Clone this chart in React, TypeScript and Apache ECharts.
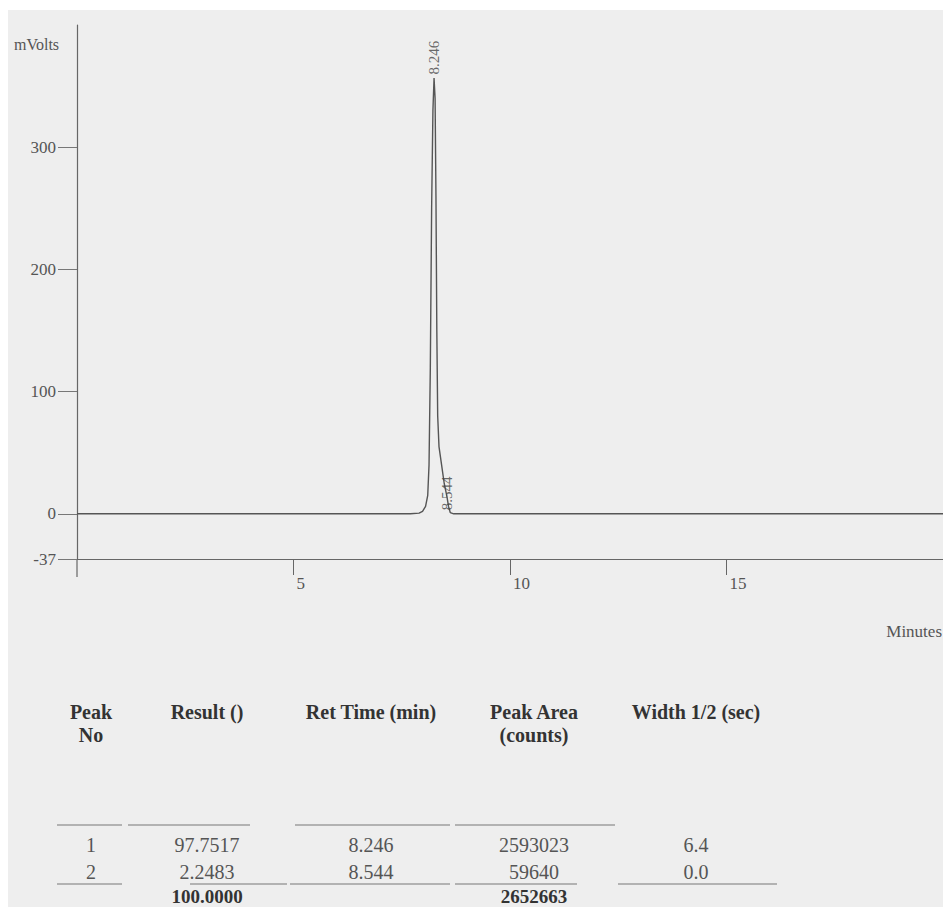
import React, { useEffect, useRef } from "react";
import * as echarts from "echarts";

// ---- data ----
const yTickValues = [-37, 0, 100, 200, 300];
const xTickValues = [5, 10, 15];
const traceTimes = [0, 7.7, 7.9, 7.98, 8.05, 8.1, 8.13, 8.16, 8.19, 8.22, 8.246, 8.27, 8.29, 8.31, 8.33, 8.36, 8.42, 8.48, 8.544, 8.58, 8.62, 8.7, 20];
const traceMv = [0, 0, 0.5, 2, 6, 15, 40, 120, 250, 330, 356.6, 340, 260, 150, 80, 55, 40, 25, 14, 6, 1, 0, 0];
const peakLabelTimes = [8.246, 8.544];
const peakLabelLevels = [356.6, 0];
const peakLabelTexts = ["8.246", "8.544"];

const tableHeaders = [["Peak", "No"], ["Result ()"], ["Ret Time (min)"], ["Peak Area", "(counts)"], ["Width 1/2 (sec)"]];
const peakNos = ["1", "2"];
const results = ["97.7517", "2.2483"];
const retTimes = ["8.246", "8.544"];
const areas = ["2593023", "59640"];
const widths = ["6.4", "0.0"];
const totalResult = "100.0000";
const totalArea = "2652663";

const FONT = "'Liberation Serif', 'Times New Roman', serif";

export default function App() {
  const ref = useRef<HTMLDivElement>(null);
  useEffect(() => {
    if (!ref.current) return;
    const chart = echarts.init(ref.current, null, { renderer: "svg" });

    const colX = [91, 207, 371, 534, 696];
    const headerTextColor = "#333";
    const rowTextColor = "#555";
    const lineColor = "#777";

    const graphics: any[] = [];
    graphics.push({
      type: "text", left: 14, top: 36,
      style: { text: "mVolts", font: `16px ${FONT}`, fill: "#555" },
    });
    graphics.push({
      type: "text", right: 1, top: 623,
      style: { text: "Minutes", font: `17px ${FONT}`, fill: "#555" },
    });
    graphics.push({ type: "line", shape: { x1: 77, y1: 559, x2: 77, y2: 577 }, style: { stroke: "#666", lineWidth: 1.2 } });

    const headerY = [712, 735];
    tableHeaders.forEach((lines, ci) => {
      lines.forEach((t, li) => {
        graphics.push({
          type: "text", x: colX[ci], y: headerY[li],
          style: { text: t, font: `bold 20px ${FONT}`, fill: headerTextColor, textAlign: "center", textVerticalAlign: "middle" },
        });
      });
    });
    const rowY = [845, 872];
    const cols = [peakNos, results, retTimes, areas, widths];
    cols.forEach((col, ci) => {
      col.forEach((t, ri) => {
        graphics.push({
          type: "text", x: colX[ci], y: rowY[ri],
          style: { text: t, font: `20px ${FONT}`, fill: rowTextColor, textAlign: "center", textVerticalAlign: "middle" },
        });
      });
    });
    [[1, totalResult], [3, totalArea]].forEach(([ci, t]) => {
      graphics.push({
        type: "text", x: colX[ci as number], y: 896,
        style: { text: t as string, font: `bold 19px ${FONT}`, fill: headerTextColor, textAlign: "center", textVerticalAlign: "middle" },
      });
    });
    const topRules = [[57, 122], [128, 250], [295, 450], [455, 615]];
    const botRules = [[57, 122], [190, 287], [290, 450], [455, 577], [618, 777]];
    topRules.forEach(([a, b]) => graphics.push({ type: "line", shape: { x1: a, y1: 825, x2: b, y2: 825 }, style: { stroke: lineColor, lineWidth: 1.2 } }));
    botRules.forEach(([a, b]) => graphics.push({ type: "line", shape: { x1: a, y1: 884, x2: b, y2: 884 }, style: { stroke: lineColor, lineWidth: 1.2 } }));

    chart.setOption({
      animation: false,
      backgroundColor: "transparent",
      textStyle: { fontFamily: FONT },
      grid: { left: 77, top: 25, right: 0, bottom: 348, containLabel: false },
      xAxis: {
        type: "value", min: 0, max: 20,
        axisLine: { show: true, onZero: false, lineStyle: { color: "#666", width: 1.2 } },
        axisTick: { show: true, customValues: xTickValues, length: 16, lineStyle: { color: "#666", width: 1 } },
        axisLabel: { customValues: xTickValues, align: "left", padding: [0, 0, 0, 3], margin: 16, fontSize: 17, color: "#555", fontFamily: FONT },
        splitLine: { show: false },
      },
      yAxis: {
        type: "value", min: -37, max: 400,
        axisLine: { show: true, lineStyle: { color: "#666", width: 1.2 } },
        axisTick: { show: true, customValues: yTickValues, length: 19, lineStyle: { color: "#777", width: 1 } },
        axisLabel: { customValues: yTickValues, margin: 21, fontSize: 17, color: "#555", fontFamily: FONT },
        splitLine: { show: false },
      },
      series: [
        {
          type: "line",
          data: traceTimes.map((t, i) => [t, traceMv[i]]),
          showSymbol: false,
          lineStyle: { color: "#555", width: 1.4 },
          z: 3,
        },
        {
          type: "scatter",
          data: peakLabelTimes.map((t, i) => [t, peakLabelLevels[i]]),
          symbolSize: 1,
          itemStyle: { color: "rgba(0,0,0,0)" },
          label: {
            show: true, position: "top", rotate: 90, align: "left", verticalAlign: "middle", distance: 3,
            fontSize: 15, color: "#444", fontFamily: FONT,
            formatter: (p: any) => peakLabelTexts[p.dataIndex],
          },
          z: 4,
        },
      ],
      graphic: graphics,
    });
    return () => chart.dispose();
  }, []);

  return (
    <div style={{ position: "absolute", left: 0, top: 0, width: 943, height: 907, background: "#fff", overflow: "hidden" }}>
      <div style={{ position: "absolute", left: 8, top: 10, right: 0, bottom: 0, background: "#eeeeee" }} />
      <div ref={ref} style={{ position: "absolute", left: 0, top: 0, width: 943, height: 907 }} />
    </div>
  );
}
